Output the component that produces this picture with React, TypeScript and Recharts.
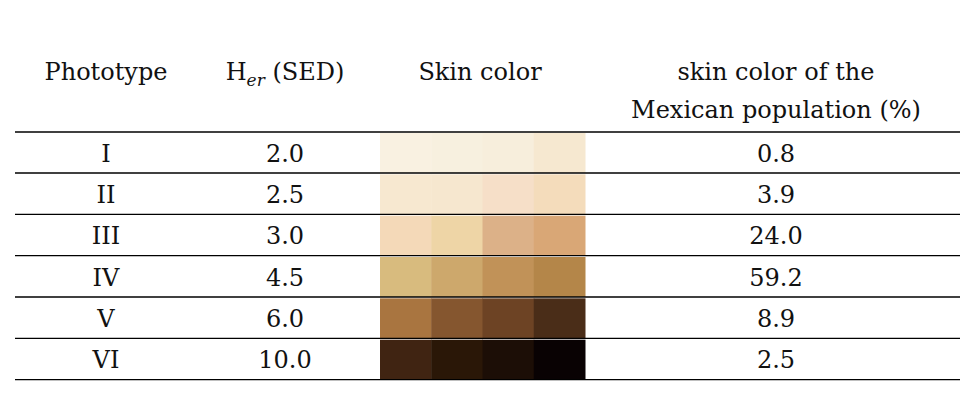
import { BarChart, Bar, XAxis, YAxis, LabelList, Customized } from "recharts";

const phototypes = ["I", "II", "III", "IV", "V", "VI"];
const herSed = ["2.0", "2.5", "3.0", "4.5", "6.0", "10.0"];
const mexicanPct = ["0.8", "3.9", "24.0", "59.2", "8.9", "2.5"];
const swatches = [
  ["#f9f1e1", "#f7f0df", "#f7eedc", "#f6e8d0"],
  ["#f7e8d0", "#f6e7cf", "#f6dfc8", "#f4dcbb"],
  ["#f4d9b8", "#eed5a6", "#dcb188", "#d9a776"],
  ["#d8bb7e", "#cda86c", "#c19258", "#b48649"],
  ["#a97540", "#85562f", "#6d4324", "#4a2d18"],
  ["#402412", "#2a1707", "#1c0e06", "#090203"],
];

const font = "'DejaVu Serif', 'Liberation Serif', serif";
const W = 968;

const data = phototypes.map((p, i) => ({
  name: p,
  offset: 380,
  c0: 51.25,
  c1: 51.25,
  c2: 51.25,
  c3: 51.25,
  her: herSed[i],
  pct: mexicanPct[i],
}));

const txt = { fontFamily: font, fontSize: 24, fill: "#111", textAnchor: "middle" as const };

const RowText = (props: any) => {
  const { y, height, index } = props;
  const cy = y + height / 2 + 9;
  return (
    <g>
      <text x={106} y={cy} {...txt}>{phototypes[index]}</text>
      <text x={285} y={cy} {...txt}>{herSed[index]}</text>
      <text x={776} y={cy} {...txt}>{mexicanPct[index]}</text>
      <line x1={15} x2={W} y1={y + height} y2={y + height} stroke="#000" strokeWidth={1.3} />
    </g>
  );
};

const Header = () => (
  <g>
    <text x={106} y={80} {...txt}>Phototype</text>
    <text x={285} y={80} {...txt}>
      H<tspan fontSize={17} fontStyle="italic" dy={6}>er</tspan>
      <tspan dy={-6}> (SED)</tspan>
    </text>
    <text x={480} y={80} {...txt}>Skin color</text>
    <text x={776} y={80} {...txt}>skin color of the</text>
    <text x={776} y={118} {...txt}>Mexican population (%)</text>
    <line x1={15} x2={W} y1={132} y2={132} stroke="#000" strokeWidth={1.3} />
  </g>
);

export default function App() {
  return (
    <div style={{ margin: -8, background: "#fff", width: W, height: 400 }}>
      <BarChart
        width={W}
        height={400}
        data={data}
        layout="vertical"
        margin={{ top: 132, right: 0, bottom: 20, left: 0 }}
        barCategoryGap={0}
      >
        <XAxis type="number" domain={[0, W]} hide />
        <YAxis type="category" dataKey="name" hide />
        <Bar dataKey="offset" stackId="s" fill="transparent" isAnimationActive={false}>
          <LabelList dataKey="name" content={RowText} />
        </Bar>
        {[0, 1, 2, 3].map((c) => (
          <Bar
            key={c}
            dataKey={`c${c}`}
            stackId="s"
            isAnimationActive={false}
            shape={(p: any) => (
              <rect x={p.x} y={p.y + 1} width={p.width + 0.5} height={p.height - 1} fill={swatches[p.index][c]} />
            )}
          />
        ))}
        <Customized component={Header} />
      </BarChart>
    </div>
  );
}
